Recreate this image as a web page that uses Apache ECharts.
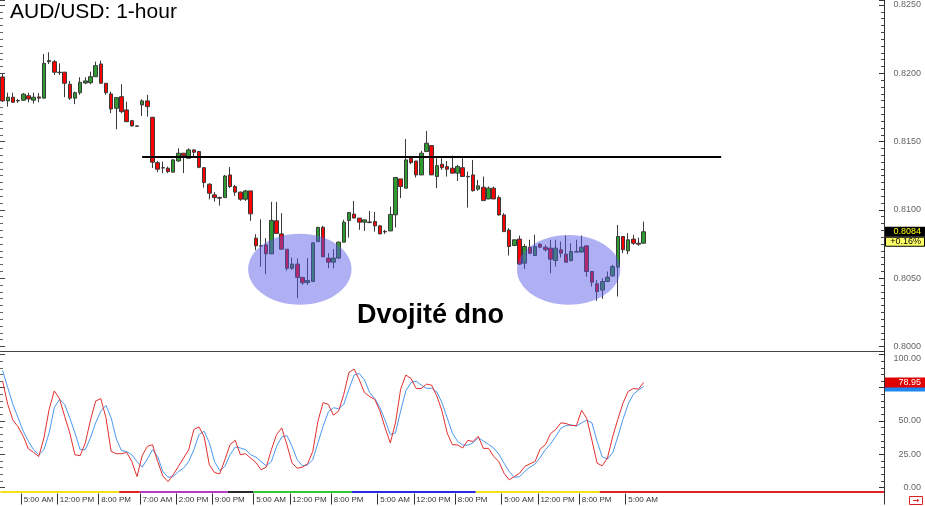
<!DOCTYPE html>
<html><head><meta charset="utf-8">
<script src="https://cdn.jsdelivr.net/npm/echarts@6/dist/echarts.min.js"></script>
<style>html,body{margin:0;padding:0;background:#fff}#c{width:925px;height:506px}</style>
</head><body><div id="c"></div>
<script>
// ---------- data ----------
const N_CATEGORIES = 171;
const timeLabelIdx = [4,11,19,27,34,41,49,56,64,73,80,88,97,104,112,121];
const timeLabelText = ['5:00 AM','12:00 PM','8:00 PM','7:00 AM','2:00 PM','9:00 PM','5:00 AM','12:00 PM','8:00 PM','5:00 AM','12:00 PM','8:00 PM','5:00 AM','12:00 PM','8:00 PM','5:00 AM'];

const opens = [
.81973,.81798,.81825,.81801,.81803,.81836,.81803,.81827,.81818,.82085,
.82085,.82008,.82008,.81920,.81818,.81858,.81929,.81931,.81975,.82068,
.81927,.81849,.81744,.81829,.81732,.81653,.81615,.81768,.81798,.81678,
.81346,.81309,.81305,.81276,.81358,.81415,.81378,.81439,.81427,.81309,
.81188,.81110,.81090,.81090,.81256,.81171,.81130,.81078,.81139,.80793,
.80737,.80744,.80678,.80920,.80824,.80712,.80572,.80603,.80506,.80468,
.80476,.80768,.80872,.80647,.80617,.80647,.80764,.80922,.80969,.80940,
.80910,.80912,.80915,.80883,.80843,.80846,.80964,.81227,.81159,.81378,
.81358,.81256,.81427,.81471,.81244,.81334,.81317,.81305,.81269,.81309,
.81245,.81256,.81152,.81166,.81080,.81159,.81090,.80963,.80852,.80739,
.80786,.80610,.80727,.80666,.80749,.80727,.80720,.80629,.80708,.80676,
.80629,.80695,.80691,.80737,.80549,.80459,.80413,.80476,.80517,.80581,
.80805,.80700,.80786,.80756,.80756];
const highs = [
.81995,.81858,.81858,.81812,.81856,.81858,.81858,.81854,.82141,.82154,
.82098,.82073,.82010,.81944,.81866,.81971,.81971,.82012,.82085,.82093,
.81927,.81866,.81822,.81920,.81792,.81659,.81617,.81810,.81842,.81681,
.81358,.81353,.81317,.81373,.81451,.81417,.81451,.81446,.81432,.81314,
.81195,.81130,.81097,.81256,.81313,.81183,.81134,.81146,.81139,.80822,
.80931,.80793,.81059,.81059,.80976,.80712,.80651,.80645,.80508,.80647,
.80761,.80876,.80883,.80683,.80712,.80768,.80927,.80981,.81066,.80940,
.80927,.80993,.80985,.80890,.80854,.81024,.81237,.81227,.81519,.81390,
.81358,.81432,.81578,.81471,.81378,.81378,.81358,.81397,.81330,.81378,
.81280,.81366,.81220,.81244,.81171,.81171,.81105,.80976,.80866,.80781,
.80812,.80749,.80781,.80818,.80756,.80744,.80781,.80781,.80768,.80812,
.80756,.80781,.80812,.80737,.80549,.80488,.80500,.80549,.80598,.80890,
.80805,.80830,.80818,.80797,.80914];
const lows = [
.81790,.81756,.81783,.81783,.81798,.81788,.81778,.81788,.81818,.82068,
.81988,.81988,.81825,.81805,.81774,.81842,.81920,.81920,.81975,.81927,
.81842,.81708,.81590,.81708,.81642,.81610,.81610,.81688,.81683,.81307,
.81276,.81269,.81269,.81276,.81353,.81269,.81378,.81388,.81305,.81163,
.81078,.81061,.81031,.81090,.81159,.81103,.81066,.81066,.80920,.80704,
.80583,.80530,.80678,.80824,.80712,.80554,.80561,.80354,.80451,.80451,
.80476,.80768,.80656,.80573,.80573,.80642,.80764,.80797,.80940,.80854,
.80846,.80902,.80841,.80824,.80824,.80846,.80871,.81086,.81159,.81334,
.81237,.81256,.81427,.81256,.81159,.81293,.81244,.81269,.81212,.81244,
.81017,.81134,.81139,.81068,.81080,.81080,.80958,.80841,.80666,.80739,
.80598,.80568,.80676,.80666,.80720,.80695,.80537,.80585,.80651,.80617,
.80622,.80691,.80691,.80510,.80439,.80334,.80349,.80471,.80510,.80366,
.80683,.80676,.80744,.80737,.80756];
const closes = [
.81798,.81825,.81788,.81798,.81847,.81812,.81825,.81818,.82073,.82093,
.82008,.82005,.81927,.81818,.81858,.81934,.81944,.81975,.82056,.81927,
.81858,.81739,.81822,.81719,.81646,.81615,.81612,.81798,.81756,.81349,
.81298,.81307,.81280,.81366,.81415,.81397,.81439,.81422,.81312,.81200,
.81122,.81090,.81086,.81248,.81171,.81130,.81078,.81139,.80971,.80737,
.80735,.80678,.80923,.80828,.80712,.80572,.80603,.80506,.80466,.80483,
.80759,.80872,.80656,.80617,.80647,.80764,.80910,.80981,.80940,.80910,
.80927,.80907,.80883,.80824,.80839,.80967,.81237,.81171,.81366,.81346,
.81256,.81415,.81488,.81256,.81324,.81309,.81298,.81269,.81317,.81244,
.81242,.81141,.81176,.81068,.81159,.81080,.80963,.80841,.80732,.80781,
.80603,.80732,.80683,.80732,.80727,.80708,.80639,.80720,.80683,.80617,
.80695,.80691,.80727,.80549,.80471,.80402,.80476,.80508,.80585,.80805,
.80708,.80781,.80756,.80749,.8084];

const stochK = [
80,62.5,50.6,45.6,38.5,29,26.4,23.3,37.3,58.7,
72.6,66.8,53.6,41,24.6,23.9,33.5,50.6,65,66.8,
52.4,27.1,25.4,25.4,26.4,19.5,8.2,23.9,30.9,32.2,
19.5,8.7,4.4,9.5,15.8,22.1,28.4,43.6,45.6,38,
17,11.2,10.2,20.8,32.2,35.5,24.6,25.4,22.1,18.8,
13.3,15.3,28.4,39.8,44.8,32.2,18.3,14.5,15.3,17.8,
27.1,49.8,63.8,62.5,54.4,57.4,70,86.5,89,80.9,
71.4,68.3,66.3,57.4,44.8,33.5,48.6,73.9,84.5,82,
74.4,74.4,77.7,76.9,68.8,57.4,41,32.2,32,29.7,
35.5,34.5,38.5,29.4,29.4,23.3,19.5,10.7,5.7,8.2,
10.7,15.8,17.8,19.5,29,32.2,40.5,43.6,48.6,48.1,
46.6,46.6,58,52,35.5,18.3,16.3,22.1,38,51.1,
63.3,72.1,74.4,73.9,78.95];
const stochD = [
88,75,62.5,52.4,42.3,34.7,28.4,24.6,28.4,41,
60,66.3,62.5,52.4,41,28.4,28.4,37.3,48.6,57.4,
61.7,52.4,36.5,27.7,27.1,24.6,19.5,15.3,21.4,28.4,
23.3,12,7.7,8.2,12,14.5,19.5,28.4,39.8,42.3,
33.5,19.5,12.7,15.8,24.6,30.4,29.7,28.4,24.6,22.9,
19.5,16.3,19.5,30.9,38,39,30.9,20.8,16.3,17,
20.8,33.5,46,56.7,60,59.2,62.5,73.9,84.5,85.7,
80.9,71.4,66.8,60,50.4,39.8,41,57.4,72.6,78.9,
79.9,76.9,74.6,74.6,71.8,63.8,52.4,41,34.7,32,
31.7,33.5,37.5,35,32.4,29.7,25.1,18.3,12,7.7,
8.2,12,15.3,17.6,22.6,28.4,32.7,38.5,44.5,46.6,
47.1,46.1,48.6,50.6,48.6,34.7,22.9,21.4,25.9,38,
51.1,62.5,70,73.3,76];

const necklinePrice = 0.8139;
const necklineStart = 27;
const necklineEnd = 139;
const ellipseLeft = [48, 100];
const ellipseRight = [67, 119];
const ellipseTop = [0.80825, 0.80817];
const ellipseBottom = [0.80305, 0.80305];
const sessionStart = [0, 23, 27, 44, 49, 68, 92, 116];
const sessionEnd = [22, 26, 43, 48, 67, 91, 115, 170];
const sessionColors = ['#f2e21c', '#e02424', '#b43cc4', '#2a2a2a', '#36c936', '#2a2ae0', '#f2e21c', '#e02424'];
const priceChangeText = '+0.16%';
const titleText = 'AUD/USD: 1-hour';
const patternText = 'Dvojité dno';

// ---------- build ----------
const categories = [];
for (let i = 0; i < N_CATEGORIES; i++) categories.push('');
timeLabelIdx.forEach((idx, k) => { categories[idx] = timeLabelText[k]; });
const candleData = opens.map((o, i) => [o, closes[i], lows[i], highs[i]]);

const FONT = 'Liberation Sans, Arial, sans-serif';
const chart = echarts.init(document.getElementById('c'), null, {renderer: 'canvas'});

const priceMin = 0.79967, priceMax = 0.825365;
const stochMax = 102.6;

const option = {
  animation: false,
  backgroundColor: '#ffffff',
  title: {text: titleText, left: 10, top: 2, padding: 0,
    textStyle: {fontFamily: FONT, fontSize: 21, fontWeight: 'normal', color: '#000'}},
  grid: [
    {left: 0, right: 41, top: 0, height: 351},
    {left: 0, right: 41, top: 351, height: 136.5},
    {left: 0, right: 41, top: 487.5, height: 6}
  ],
  xAxis: [
    {type: 'category', gridIndex: 0, data: categories, boundaryGap: true,
      axisLine: {show: true, lineStyle: {color: '#444', width: 1}}, axisTick: {show: false}, axisLabel: {show: false}, splitLine: {show: false}},
    {type: 'category', gridIndex: 1, data: categories, boundaryGap: true, show: false},
    {type: 'category', gridIndex: 2, data: categories, boundaryGap: true,
      axisLine: {show: false},
      axisTick: {show: true, length: 11, interval: (i, v) => v !== '', lineStyle: {color: '#333'}},
      axisLabel: {show: true, interval: 0, align: 'left', fontSize: 8, color: '#333', margin: 2, fontFamily: FONT},
      splitLine: {show: false}}
  ],
  yAxis: [
    {type: 'value', gridIndex: 0, position: 'right', min: priceMin, max: priceMax, splitNumber: 5, scale: true,
      axisLine: {show: true, lineStyle: {color: '#333'}},
      axisTick: {show: true, inside: true, length: 5, lineStyle: {color: '#333'}},
      minorTick: {show: true, splitNumber: 10, length: 3, lineStyle: {color: '#444'}},
      splitLine: {show: false},
      axisLabel: {show: true, fontSize: 9, color: '#666', align: 'right', margin: 37, fontFamily: FONT,
        showMinLabel: false, showMaxLabel: false, formatter: v => v.toFixed(4)}},
    {type: 'value', gridIndex: 0, position: 'left', min: priceMin, max: priceMax, splitNumber: 5, scale: true,
      axisLine: {show: false},
      axisTick: {show: true, inside: true, length: 5, lineStyle: {color: '#444'}},
      minorTick: {show: true, splitNumber: 10, length: 3, lineStyle: {color: '#666'}},
      splitLine: {show: false}, axisLabel: {show: false}},
    {type: 'value', gridIndex: 1, position: 'right', min: 0, max: stochMax, interval: 25,
      axisLine: {show: true, lineStyle: {color: '#333'}},
      axisTick: {show: true, inside: true, length: 5, lineStyle: {color: '#333'}},
      minorTick: {show: true, splitNumber: 5, length: 3, lineStyle: {color: '#444'}},
      splitLine: {show: false},
      axisLabel: {show: true, fontSize: 9, color: '#666', align: 'right', margin: 37, fontFamily: FONT,
        showMaxLabel: false,
        formatter: v => (v === 100 ? '{a|100.00}' : (v % 25 === 0 ? v.toFixed(2) : '')),
        rich: {a: {fontSize: 9, color: '#666', fontFamily: FONT, padding: [8, 0, 0, 0]}}}},
    {type: 'value', gridIndex: 1, position: 'left', min: 0, max: stochMax, interval: 25,
      axisLine: {show: false},
      axisTick: {show: true, inside: true, length: 5, lineStyle: {color: '#444'}},
      minorTick: {show: true, splitNumber: 5, length: 3, lineStyle: {color: '#666'}},
      splitLine: {show: false}, axisLabel: {show: false}},
    {type: 'value', gridIndex: 2, position: 'right', min: 0, max: 1,
      axisLine: {show: true, lineStyle: {color: '#333'}}, axisTick: {show: false}, axisLabel: {show: false}, splitLine: {show: false}}
  ],
  series: [
    {type: 'candlestick', xAxisIndex: 0, yAxisIndex: 0, data: candleData, barWidth: 4, z: 2,
      itemStyle: {color: '#2f9a2f', color0: '#ff0000', borderColor: '#3a3a3a', borderColor0: '#3a3a3a', borderWidth: 1},
      markLine: {silent: true, symbol: ['none', 'none'], label: {show: false}, z: 12,
        lineStyle: {color: '#000', width: 2, type: 'solid'},
        data: [[{coord: [necklineStart, necklinePrice]}, {coord: [necklineEnd, necklinePrice]}]]}},
    {type: 'custom', xAxisIndex: 0, yAxisIndex: 0, z: 10, silent: true,
      data: ellipseLeft.map((l, i) => [l, ellipseRight[i], ellipseTop[i], ellipseBottom[i]]),
      encode: {x: [0, 1], y: [2, 3]},
      renderItem: function (params, api) {
        const bw = api.size([1, 0])[0];
        const p1 = api.coord([api.value(0), api.value(2)]);
        const p2 = api.coord([api.value(1), api.value(3)]);
        const x0 = p1[0] - bw / 2, x1 = p2[0] + bw / 2;
        return {type: 'ellipse', shape: {cx: (x0 + x1) / 2, cy: (p1[1] + p2[1]) / 2, rx: (x1 - x0) / 2, ry: Math.abs(p2[1] - p1[1]) / 2},
          style: {fill: 'rgba(88,88,232,0.48)'}};
      }},
    {type: 'line', xAxisIndex: 1, yAxisIndex: 2, data: stochD, showSymbol: false, z: 3,
      lineStyle: {color: '#4a98ee', width: 1}},
    {type: 'line', xAxisIndex: 1, yAxisIndex: 2, data: stochK, showSymbol: false, z: 4,
      lineStyle: {color: '#e23030', width: 1}},
    {type: 'custom', xAxisIndex: 2, yAxisIndex: 4, z: 2, silent: true,
      data: sessionStart.map((s, i) => [s, sessionEnd[i], i]),
      encode: {x: [0, 1]},
      renderItem: function (params, api) {
        const bw = api.size([1, 0])[0];
        const a = api.coord([api.value(0), 0.25]);
        const b = api.coord([api.value(1), 0.25]);
        return {type: 'line', shape: {x1: a[0] - bw / 2, y1: a[1], x2: b[0] + bw / 2, y2: a[1]},
          style: {stroke: sessionColors[api.value(2)], lineWidth: 2}};
      }}
  ]
};
chart.setOption(option);

// value tags on the right axes, positioned through the axes' scales
const lastIdx = closes.length - 1;
const yP = chart.convertToPixel({yAxisIndex: 0}, closes[lastIdx]);
const yK = chart.convertToPixel({yAxisIndex: 2}, stochK[lastIdx]);
const yD = chart.convertToPixel({yAxisIndex: 2}, stochD[lastIdx]);
const tagX = 885, tagW = 40;
chart.setOption({
  graphic: [
    {type: 'text', left: 357, top: 302, z: 50,
      style: {text: patternText, font: 'bold 27px ' + FONT, fill: '#000'}},
    {type: 'rect', z: 50, shape: {x: tagX, y: yP - 5, width: tagW, height: 10}, style: {fill: '#000'}},
    {type: 'text', z: 51, x: 921, y: yP, style: {text: closes[lastIdx].toFixed(4), font: '9px ' + FONT, fill: '#ffff00', align: 'right', verticalAlign: 'middle'}},
    {type: 'rect', z: 50, shape: {x: tagX + 0.5, y: yP + 5.5, width: tagW - 1, height: 9}, style: {fill: '#ffff66', stroke: '#000', lineWidth: 1}},
    {type: 'text', z: 51, x: 921, y: yP + 10, style: {text: priceChangeText, font: '9px ' + FONT, fill: '#000', align: 'right', verticalAlign: 'middle'}},
    {type: 'rect', z: 50, shape: {x: tagX, y: yD - 5, width: tagW, height: 10}, style: {fill: '#1e88f0'}},
    {type: 'rect', z: 51, shape: {x: tagX, y: yK - 5, width: tagW, height: 10}, style: {fill: '#e00000'}},
    {type: 'text', z: 52, x: 921, y: yK, style: {text: stochK[lastIdx].toFixed(2), font: '9px ' + FONT, fill: '#fff', align: 'right', verticalAlign: 'middle'}},
    {type: 'rect', z: 50, shape: {x: 909.5, y: 496.5, width: 13, height: 8}, style: {fill: '#fff', stroke: '#e02020', lineWidth: 1}},
    {type: 'text', z: 51, x: 916, y: 500.5, style: {text: '→', font: 'bold 8px DejaVu Sans', fill: '#e02020', align: 'center', verticalAlign: 'middle'}}
  ]
});
</script>
</body></html>
